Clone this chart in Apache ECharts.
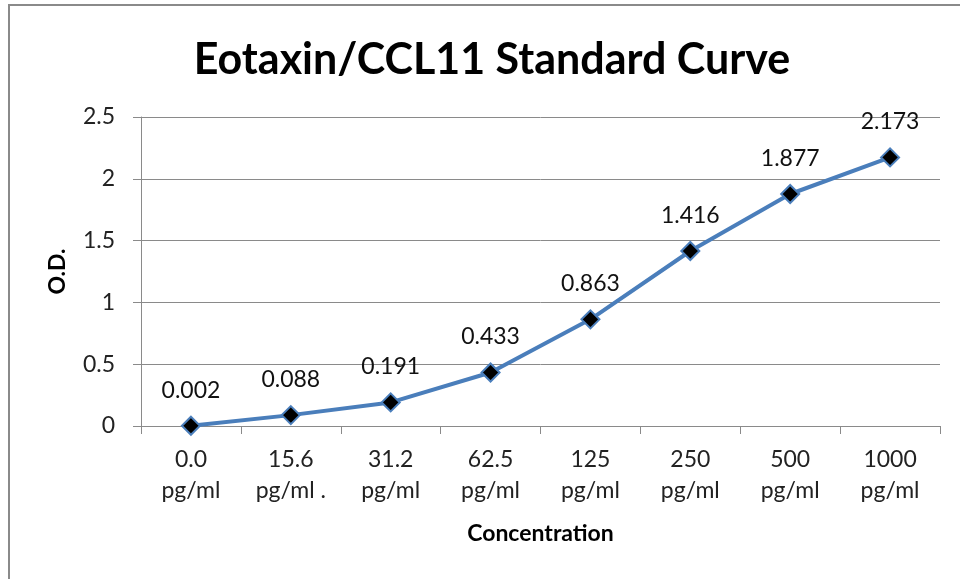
<!DOCTYPE html>
<html>
<head>
<meta charset="utf-8">
<script src="https://cdn.jsdelivr.net/npm/echarts@6/dist/echarts.min.js"></script>
<style>
html, body { margin: 0; padding: 0; background: #fff; }
#frame { position: absolute; left: 8px; top: 4px; width: 960px; height: 600px; border-left: 2px solid #8a8a8a; border-top: 2px solid #8a8a8a; }
#chart { position: absolute; left: 0; top: 0; width: 960px; height: 579px; }
</style>
</head>
<body>
<div id="frame"></div>
<div id="chart"></div>
<script>
var categories = ['0.0\npg/ml', '15.6\npg/ml .', '31.2\npg/ml', '62.5\npg/ml', '125\npg/ml', '250\npg/ml', '500\npg/ml', '1000\npg/ml'];
var odValues = [0.002, 0.088, 0.191, 0.433, 0.863, 1.416, 1.877, 2.173];

initchart();

function initchart(){
    var myChart = echarts.init(document.getElementById('chart'));
    var font = 'Lato, "Open Sans", sans-serif';
    var option = {
        animation: false,
        title: {
            text: 'Eotaxin/CCL11 Standard Curve',
            left: 487,
            textAlign: 'center',
            top: 34,
            textStyle: {fontFamily: font, fontSize: 43, fontWeight: 'bold', color: '#000'}
        },
        grid: {left: 141, right: 20, top: 117, bottom: 153, containLabel: false},
        xAxis: {
            type: 'category',
            data: categories,
            boundaryGap: true,
            name: 'Concentration',
            nameLocation: 'middle',
            nameGap: 96,
            nameTextStyle: {fontFamily: font, fontSize: 23, fontWeight: 'bold', color: '#000'},
            axisLine: {lineStyle: {color: '#8a8a8a', width: 1}},
            axisTick: {show: true, length: 8, lineStyle: {color: '#8a8a8a'}},
            axisLabel: {fontFamily: font, fontSize: 23, color: '#222', lineHeight: 31, margin: 18}
        },
        yAxis: {
            type: 'value',
            min: 0,
            max: 2.5,
            interval: 0.5,
            name: 'O.D.',
            nameLocation: 'middle',
            nameGap: 72,
            nameTextStyle: {fontFamily: font, fontSize: 23, fontWeight: 'bold', color: '#000'},
            axisLine: {show: true, lineStyle: {color: '#8a8a8a', width: 1}},
            axisTick: {show: true, length: 8, lineStyle: {color: '#8a8a8a'}},
            axisLabel: {fontFamily: font, fontSize: 23, color: '#222', margin: 26},
            splitLine: {lineStyle: {color: '#8a8a8a', width: 1}}
        },
        series: [{
            type: 'line',
            data: odValues,
            symbol: 'diamond',
            symbolSize: 18,
            lineStyle: {color: '#4a7ebb', width: 4},
            itemStyle: {color: '#000', borderColor: '#4a7ebb', borderWidth: 2},
            label: {
                show: true,
                position: 'top',
                distance: 14,
                fontFamily: font,
                fontSize: 23,
                color: '#111',
                formatter: function (p) { return p.value.toFixed(3); }
            }
        }]
    };
    myChart.setOption(option);
}
</script>
</body>
</html>
